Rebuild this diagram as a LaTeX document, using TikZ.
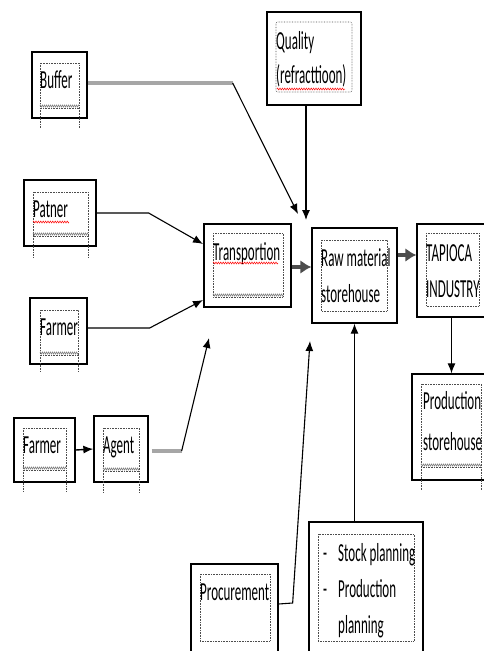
\documentclass[tikz,border=0pt]{standalone}
\usepackage{fontspec}
\setmainfont[FakeStretch=0.5]{Carlito}
\usetikzlibrary{arrows.meta, positioning}
\usetikzlibrary{decorations.pathmorphing}

\begin{document}
\begin{tikzpicture}[
  x=1pt, y=-1pt,
  out-box/.style 2 args={draw, line width=1.3pt, inner sep=0pt, minimum width=#1, minimum height=#2},
  in-box/.style={densely dotted, line width=0.6pt, gray!60!black},
  lbl/.style={anchor=base west, inner sep=0pt, font=\fontsize{26}{36}\selectfont},
  conn/.style={line width=1.1pt, -{Latex[length=10pt, width=8pt]}},
  fat-conn/.style={line width=3.2pt, gray!60!black, -{Latex[length=11pt, width=14pt]}},
  lead/.style={line width=3.5pt, gray!70},
  wavy/.style={gray, line width=0.6pt, decorate, decoration={zigzag, segment length=2pt, amplitude=1pt}},
  spell/.style={red, line width=0.5pt, decorate, decoration={zigzag, segment length=2.4pt, amplitude=1pt}}
]
\clip (0,0) rectangle (484,651);

% outer boxes
\node[out-box={55pt}{66pt}] (buffer) at (59.5,85) {};
\node[out-box={94pt}{93pt}] (quality) at (314,58.5) {};
\node[out-box={72pt}{66pt}] (patner) at (60,213) {};
\node[out-box={57pt}{66pt}] (farmerA) at (58.5,331) {};
\node[out-box={87pt}{83pt}] (transp) at (247.5,265.5) {};
\node[out-box={85pt}{95pt}] (raw) at (354.5,275.5) {};
\node[out-box={83pt}{93pt}] (tapioca) at (458.5,270.5) {};
\node[out-box={88pt}{106pt}] (prodstore) at (456,427) {};
\node[out-box={61pt}{64pt}] (farmerB) at (44.5,450) {};
\node[out-box={54pt}{66pt}] (agent) at (121,449) {};
\node[out-box={87pt}{106pt}] (procure) at (234.5,617) {};
\node[out-box={114pt}{148pt}] (stock) at (366,596) {};

% dotted text frames
\foreach \xa/\ya/\xb/\yb in {40/63/79/108, 33/192/88/236, 40/310/78/355, 213/233/283/297,
    321/240/387/311, 426/233/479/306, 421/384/481/467, 23/428/66/470, 103/428/139/471,
    200/574/270/641, 318/534/414/641}
  \draw[in-box] (\xa,\ya) rectangle (\xb,\yb);
\draw[in-box, rounded corners=2pt] (276,22) rectangle (352,92);
\foreach \xa/\xb/\ya/\yb in {40/79/108/128, 33/88/236/257, 40/78/355/372,
    421/481/467/490, 23/66/470/492, 103/139/471/492}
  \draw[in-box] (\xa,\ya) -- (\xa,\yb) (\xb,\ya) -- (\xb,\yb);
\foreach \xa/\xb/\y in {40/79/106, 33/88/234, 40/78/353, 213/283/295,
    421/481/465, 23/66/468, 103/139/469}
  \draw[wavy] (\xa,\y) -- (\xb,\y);

% labels
\node[lbl] (buffer-t) at (40,88) {Buffer};
\node[lbl] (quality-t) at (276,49) {Quality};
\node[lbl] (quality-t2) at (276,83) {(refracttioon)};
\node[lbl] (patner-t) at (33,217) {Patner};
\node[lbl] (farmerA-t) at (40,335) {Farmer};
\node[lbl] (transp-t) at (213,260) {Transportion};
\node[lbl] (raw-t) at (321,266) {Raw material};
\node[lbl] (raw-t2) at (321,302) {storehouse};
\node[lbl] (tapioca-t) at (426,261) {TAPIOCA};
\node[lbl] (tapioca-t2) at (426,297) {INDUSTRY};
\node[lbl] (prodstore-t) at (423,409) {Production};
\node[lbl] (prodstore-t2) at (423,450) {storehouse};
\node[lbl] (farmerB-t) at (23,453) {Farmer};
\node[lbl] (agent-t) at (103,453) {Agent};
\node[lbl] (procure-t) at (200,600) {Procurement};
\node[lbl] (stock-d1) at (323,561) {-};
\node[lbl] (stock-t) at (338,561) {Stock planning};
\node[lbl] (stock-d2) at (323,597) {-};
\node[lbl] (stock-t2) at (338,597) {Production};
\node[lbl] (stock-t3) at (338,633) {planning};

\draw[spell] (277,89) -- (345,89);
\draw[spell] (33,222) -- (69,222);
\draw[spell] (213,263) -- (278,263);

% connectors
\coordinate (buf-tip) at (298,214);
\coordinate (q-tip) at (306,220);
\coordinate (pat-tip) at (203,244);
\coordinate (far-tip) at (203,300);
\coordinate (ag-tip) at (209,338);
\coordinate (pro-tip) at (310,341);

\draw[lead] ([yshift=2pt]buffer.east) -- ++(145,0) coordinate (buf-bend);
\draw[conn] (buf-bend) -- (buf-tip);
\draw[conn] (quality.south -| q-tip) -- (q-tip);
\draw[conn] (patner.east) -- ++(52,0) -- (pat-tip);
\draw[conn] ([yshift=3pt]farmerA.east) -- ++(62,0) -- (far-tip);
\draw[conn, line width=1.4pt] (farmerB.east) -- (agent.west);
\draw[lead] ([xshift=3pt, yshift=-2pt]agent.east) -- ++(30,0) coordinate (ag-bend);
\draw[conn] (ag-bend) -- (ag-tip);
\draw[fat-conn] ([yshift=-1.5pt]transp.east) -- ([yshift=8.5pt]raw.west);
\draw[fat-conn] ([yshift=20.5pt]raw.east) -- ([yshift=15.5pt]tapioca.west);
\draw[conn] ([xshift=-7pt]tapioca.south) -- ([xshift=-7pt]tapioca.south |- prodstore.north);
\draw[conn] ([yshift=13pt]procure.east) -- ++(14,-1) -- (pro-tip);
\draw[conn] (stock.north -| raw.south) -- (raw.south);
\end{tikzpicture}
\end{document}
